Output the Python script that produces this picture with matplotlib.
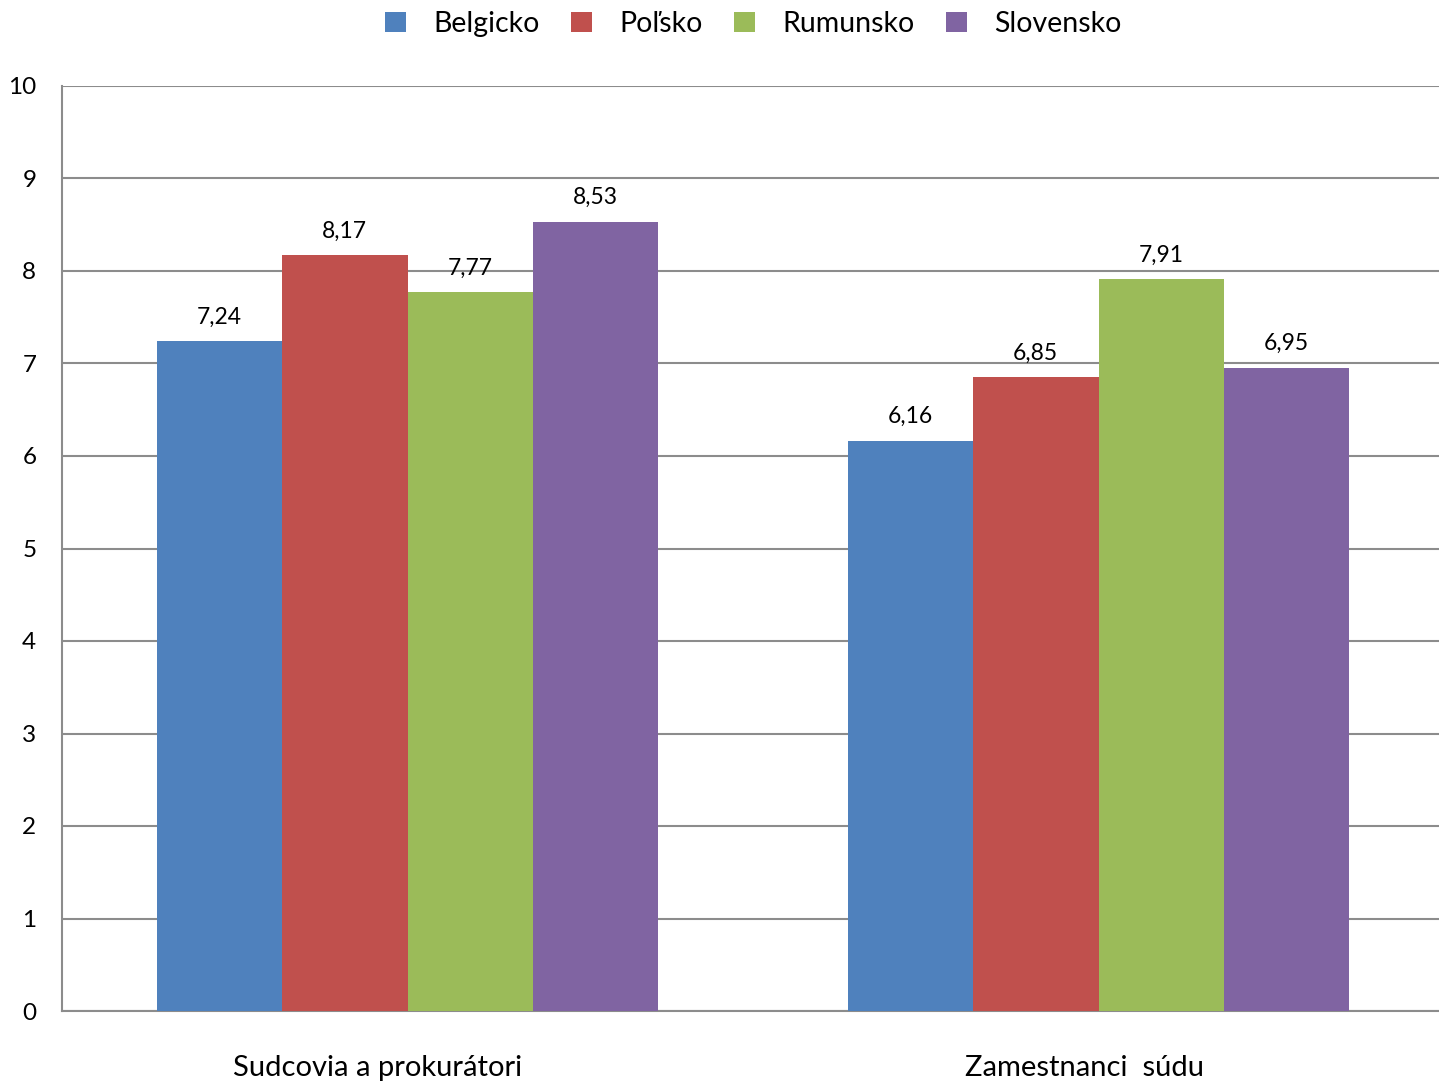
import matplotlib
matplotlib.use("Agg")
import matplotlib.pyplot as plt
import matplotlib.transforms as mtransforms
import numpy as np

categories = ["Sudcovia a prokurátori", "Zamestnanci  súdu"]
series = ["Belgicko", "Poľsko", "Rumunsko", "Slovensko"]
values = {
    "Belgicko": [7.24, 6.16],
    "Poľsko": [8.17, 6.85],
    "Rumunsko": [7.77, 7.91],
    "Slovensko": [8.53, 6.95],
}
colors = ["#4F81BD", "#C0504D", "#9BBB59", "#8064A2"]
yticks = list(range(0, 11))

plt.rcParams['font.family'] = ['Lato', 'DejaVu Sans']

fig = plt.figure(figsize=(14.39, 10.84), dpi=100)
ax = fig.add_axes([62/1439, 1 - 1011/1084, 1382/1439, (1011-86)/1084])

x = np.arange(len(categories))
w = 0.1815
for i, s in enumerate(series):
    pos = x + (i - 1.5) * w
    ax.bar(pos, values[s], width=w, color=colors[i], label=s, zorder=3)
    for xp, v in zip(pos, values[s]):
        ax.text(xp, v + 0.15, f"{v:.2f}".replace(".", ","), ha="center", va="bottom",
                fontsize=16.5, color="black")

ax.set_xlim(-0.5, 1.5)
ax.set_ylim(0, 10)
ax.set_yticks(yticks)
ax.set_yticklabels([str(t) for t in yticks], fontsize=17.5)
ax.set_xticks(x)
ax.set_xticklabels(categories, fontsize=21)
ax.tick_params(axis='both', length=0)
ax.tick_params(axis='y', pad=18.5)
ax.tick_params(axis='x', pad=32)
# label offsets as in the reference (labels sit slightly left of category centers)
for lbl, dx in zip(ax.get_xticklabels(), [-30, -14]):
    lbl.set_transform(lbl.get_transform() + mtransforms.ScaledTranslation(dx / 100, 0, fig.dpi_scale_trans))
ax.yaxis.grid(True, color="#8C8C8C", linewidth=1.5, zorder=0)
ax.set_axisbelow(True)
for sp in ["top", "right"]:
    ax.spines[sp].set_visible(False)
ax.spines["left"].set_color("#8C8C8C")
ax.spines["bottom"].set_color("#8C8C8C")
ax.spines["left"].set_linewidth(1.5)
ax.spines["bottom"].set_linewidth(1.5)

fig.legend(loc="center", bbox_to_anchor=(753/1439, 1 - 24/1084), ncol=4, frameon=False,
           fontsize=20.5, handlelength=0.75, handleheight=0.75, columnspacing=1.1,
           handletextpad=0.95, borderpad=0)

fig.savefig("out.png", dpi=100)
